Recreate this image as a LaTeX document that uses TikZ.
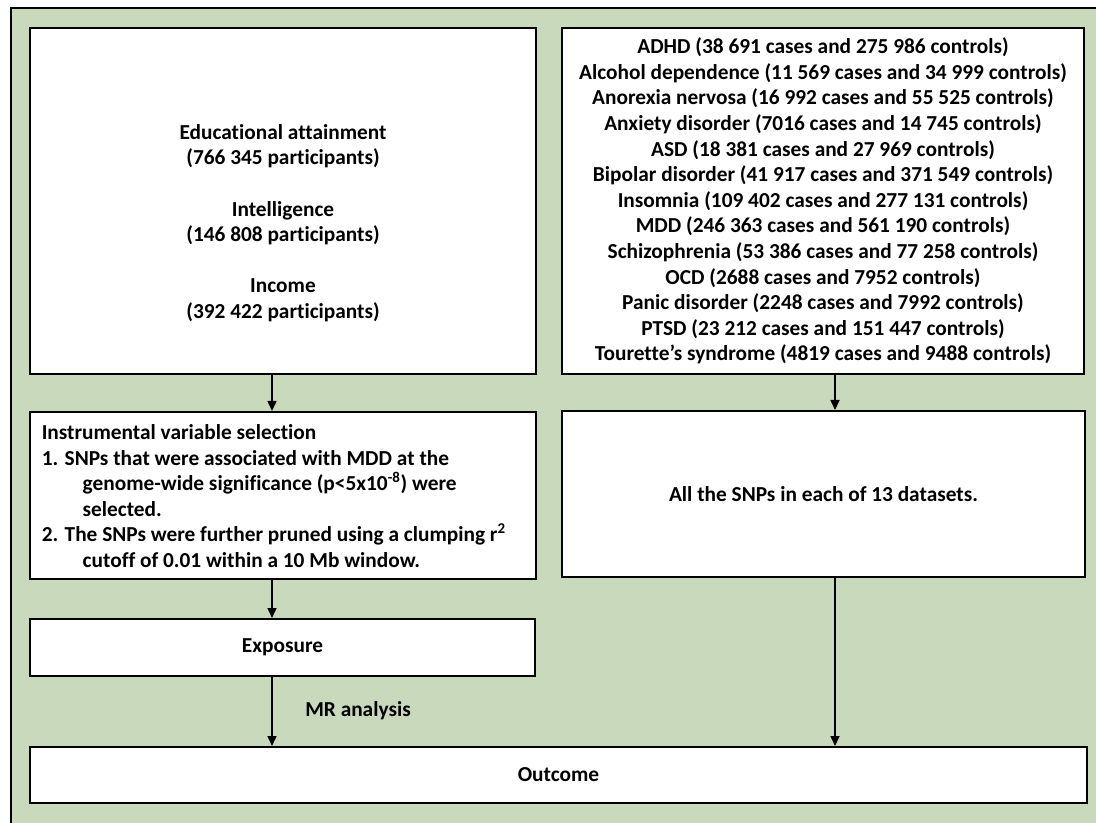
\documentclass[tikz,border=0pt]{standalone}
\usepackage{fontspec}
\setmainfont{Carlito}[Ligatures={NoCommon}]
\usetikzlibrary{arrows.meta,fit}
\definecolor{bggreen}{RGB}{201,218,188}
\begin{document}
\begin{tikzpicture}[x=0.75pt,y=-0.75pt,
  box/.style={draw=black, line width=1.5pt, fill=white, inner sep=0pt},
  txt/.style={font=\fontsize{16}{19.2}\selectfont\bfseries, align=center, inner sep=0pt, text=black},
  arr/.style={-{Triangle[length=7.5pt,width=6.75pt]}, line width=1.2pt}]
\useasboundingbox (0,0) rectangle (1096,823);
\fill[white] (0,0) rectangle (1096,823);
\begin{scope}
\clip (0,0) rectangle (1096,823);
\draw[line width=2pt, fill=bggreen] (11,8) rectangle (1120,850);
\end{scope}
% boxes
\node[box, fit={(30,28) (536,374)}] (traits) {};
\node[box, fit={(562,28) (1084,374)}] (psych) {};
\node[box, fit={(30,412) (536,579)}] (ivsel) {};
\node[box, fit={(562,411) (1085,577)}] (snps) {};
\node[box, fit={(30,619) (535,676)}] (expo) {};
\node[box, fit={(30,747) (1087,803)}] (outc) {};
% texts
\node[txt] (traitstxt) at (283,223) {Educational attainment\\(766 345 participants)\\[19.2pt]Intelligence\\(146 808 participants)\\[19.2pt]Income\\(392 422 participants)};
\node[txt] (psychtxt) at (psych.center) {ADHD (38 691 cases and 275 986 controls)\\
Alcohol dependence (11 569 cases and 34 999 controls)\\
Anorexia nervosa (16 992 cases and 55 525 controls)\\
Anxiety disorder (7016 cases and 14 745 controls)\\
ASD (18 381 cases and 27 969 controls)\\
Bipolar disorder (41 917 cases and 371 549 controls)\\
Insomnia (109 402 cases and 277 131 controls)\\
MDD (246 363 cases and 561 190 controls)\\
Schizophrenia (53 386 cases and 77 258 controls)\\
OCD (2688 cases and 7952 controls)\\
Panic disorder (2248 cases and 7992 controls)\\
PTSD (23 212 cases and 151 447 controls)\\
Tourette’s syndrome (4819 cases and 9488 controls)};
\node[txt, align=left, anchor=west] (ivtxt) at (41.5,496) {Instrumental variable selection\\
1. SNPs that were associated with MDD at the\\
\hspace*{30.7pt}genome-wide significance (p<5x10\textsuperscript{-8}) were\\
\hspace*{30.7pt}selected.\\
2. The SNPs were further pruned using a clumping r\textsuperscript{2}\\
\hspace*{30.7pt}cutoff of 0.01 within a 10 Mb window.};
\node[txt] (snpstxt) at (snps.center) {All the SNPs in each of 13 datasets.};
\node[txt] (expotxt) at (expo.center) {Exposure};
\node[txt] (outctxt) at (outc.center) {Outcome};
\node[txt] (mr) at (358,711) {MR analysis};
% connectors
\coordinate (lx) at (272,0);
\coordinate (rx) at (835,0);
\draw[arr] (traits.south -| lx) -- (ivsel.north -| lx);
\draw[arr] (ivsel.south -| lx) -- (expo.north -| lx);
\draw[arr] (expo.south -| lx) -- (outc.north -| lx);
\draw[arr] (psych.south -| rx) -- (snps.north -| rx);
\draw[arr] (snps.south -| rx) -- (outc.north -| rx);
\end{tikzpicture}
\end{document}
